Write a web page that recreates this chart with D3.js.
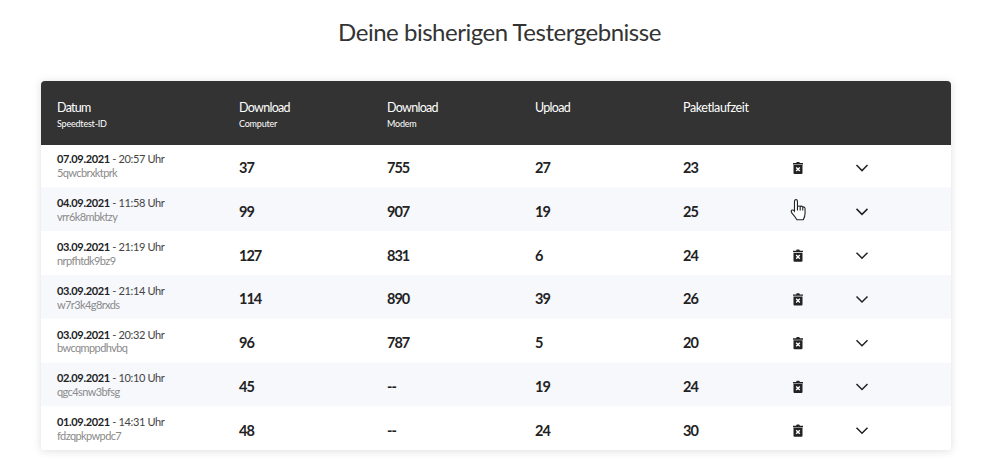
<!DOCTYPE html>
<html>
<head>
<meta charset="utf-8">
<script src="https://cdn.jsdelivr.net/npm/d3@7"></script>
<style>
html,body{margin:0;padding:0;background:#fff;overflow:hidden}
text{font-family:Lato,sans-serif}
</style>
</head>
<body>
<div id="chart"></div>
<script>
const title = 'Deine bisherigen Testergebnisse';
const headMain = ['Datum','Download','Download','Upload','Paketlaufzeit'];
const headSub = ['Speedtest-ID','Computer','Modem','',''];
const dates = ['07.09.2021','04.09.2021','03.09.2021','03.09.2021','03.09.2021','02.09.2021','01.09.2021'];
const times = ['20:57','11:58','21:19','21:14','20:32','10:10','14:31'];
const ids = ['5qwcbrxktprk','vrr6k8mbktzy','nrpfhtdk9bz9','w7r3k4g8rxds','bwcqmppdhvbq','qgc4snw3bfsg','fdzqpkpwpdc7'];
const downComputer = [37,99,127,114,96,45,48];
const downModem = [755,907,831,890,787,'--','--'];
const upload = [27,19,6,39,5,19,24];
const latency = [23,25,24,26,20,24,30];
const columns = [downComputer,downModem,upload,latency];

const width = 999, height = 467;
const card = {left:41,right:951,top:81,head:145,bottom:450};

const svg = d3.select('#chart').append('svg')
  .attr('width',width).attr('height',height)
  .style('display','block');

// soft shadow of the card
const defs = svg.append('defs');
const blur = defs.append('filter').attr('id','shadow')
  .attr('x','-5%').attr('y','-5%').attr('width','110%').attr('height','110%');
blur.append('feDropShadow').attr('dx',0).attr('dy',1).attr('stdDeviation',4)
  .attr('flood-color','#000').attr('flood-opacity',0.13);
defs.append('clipPath').attr('id','cardclip').append('rect')
  .attr('x',card.left).attr('y',card.top)
  .attr('width',card.right-card.left).attr('height',card.bottom-card.top).attr('rx',4);

svg.append('text').attr('x',499.5).attr('y',41)
  .attr('text-anchor','middle').attr('font-size',24).attr('letter-spacing',-0.48).attr('fill','#333')
  .text(title);

svg.append('rect')
  .attr('x',card.left).attr('y',card.top)
  .attr('width',card.right-card.left).attr('height',card.bottom-card.top)
  .attr('rx',4).attr('fill','#fff').attr('filter','url(#shadow)');

const body = svg.append('g').attr('clip-path','url(#cardclip)');

// scales
const xcol = d3.scaleBand().domain(d3.range(4)).range([239,831]);
const xhead = i => i===0 ? 57 : xcol(i-1);
// first row sits partly under the header
const yrow = d3.scaleBand().domain(d3.range(dates.length)).range([143.7,450.2]);

const rows = body.selectAll('.row')
  .data(dates)
  .enter()
  .append('g')
  .attr('class','row')
  .attr('transform',(d,i)=>`translate(0,${yrow(i)})`);

rows.append('rect')
  .attr('x',card.left).attr('width',card.right-card.left)
  .attr('height',yrow.bandwidth())
  .attr('fill',(d,i)=>i%2 ? '#f6f8fc' : '#fff');

body.append('rect')
  .attr('x',card.left).attr('y',card.top)
  .attr('width',card.right-card.left).attr('height',card.head-card.top)
  .attr('fill','#333');

headMain.forEach(function(d,i){
  svg.append('text').attr('x',xhead(i)).attr('y',112)
    .attr('font-size',12.5).attr('letter-spacing',i===4 ? -0.4 : -0.7).attr('fill','#fff').text(d);
  if(headSub[i]){
    svg.append('text').attr('x',xhead(i)).attr('y',127)
      .attr('font-size',9).attr('letter-spacing',-0.2).attr('fill','#fff').text(headSub[i]);
  }
});

const dateLabel = rows.append('text')
  .attr('x',57).attr('y',19.8)
  .attr('font-size',11).attr('letter-spacing',-0.35).attr('fill','#444');
dateLabel.append('tspan').attr('font-weight',700).attr('fill','#222').text(d=>d);
dateLabel.append('tspan').text((d,i)=>` - ${times[i]} Uhr`);

rows.append('text')
  .attr('x',57).attr('y',33.5)
  .attr('font-size',11).attr('letter-spacing',-0.6).attr('fill','#8a8a8a')
  .text((d,i)=>ids[i]);

columns.forEach(function(values,c){
  rows.append('text')
    .attr('x',xcol(c)).attr('y',29.3)
    .attr('font-size',14.5).attr('letter-spacing',-1).attr('font-weight',700).attr('fill','#222')
    .text((d,i)=>values[i]);
});

const mid = yrow.bandwidth()/2+2.5;

// trash icon, row 2 has the mouse pointer on top instead
const trash = rows.filter((d,i)=>i!==1).append('g')
  .attr('transform',`translate(798,${mid})`);
trash.append('path')
  .attr('d','M-5,-5 H-2 L-1.2,-6.2 H1.2 L2,-5 H5 V-3.6 H-5 Z M-4.5,-3 H4.5 V5 Q4.5,6 3.5,6 H-3.5 Q-4.5,6 -4.5,5 Z')
  .attr('fill','#222');
trash.append('path')
  .attr('d','M-1.8,-0.6 L1.8,3 M1.8,-0.6 L-1.8,3')
  .attr('stroke','#fff').attr('stroke-width',1.4);

// chevrons
rows.append('path')
  .attr('transform',`translate(862,${mid})`)
  .attr('d','M-5.5,-3 L0,2.5 L5.5,-3')
  .attr('fill','none').attr('stroke','#222').attr('stroke-width',1.5);

// mouse pointer
svg.append('path')
  .attr('transform',`translate(${xcol(3)+115},${yrow(1)+mid-2}) scale(1.1)`)
  .attr('d','M-3.2,-7 Q-3.2,-9.5 -1.8,-9.5 Q-0.5,-9.5 -0.5,-7 V-3 Q1,-4 2,-3.2 Q3.4,-3.8 4.3,-2.6 Q5.8,-3 6.4,-1.6 V3 Q6.4,6 4.8,9 H-1 Q-2.4,6.5 -5.5,3 Q-6.8,1 -5.6,0.2 Q-4.4,-0.2 -3.2,1.2 Z M2,-3.2 V0.5 M4.3,-2.6 V0.5 M-0.5,-3 V0.5')
  .attr('fill','#fff').attr('stroke','#222').attr('stroke-width',1);
</script>
</body>
</html>
